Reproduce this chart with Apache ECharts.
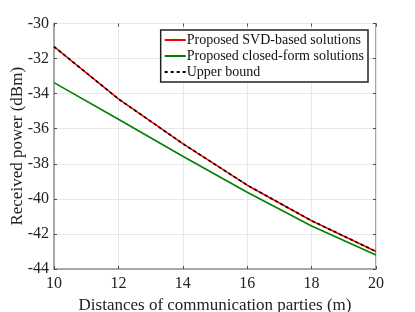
<!DOCTYPE html>
<html><head><meta charset="utf-8">
<script src="https://cdn.jsdelivr.net/npm/echarts@6/dist/echarts.min.js"></script>
<style>html,body{margin:0;padding:0;background:#fff}#c{width:415px;height:312px}</style>
</head><body><div id="c"></div>
<script>
const distances = [10, 12, 14, 16, 18, 20];
const svdBased = [-31.32, -34.3, -36.85, -39.22, -41.25, -43.0];
const closedForm = [-33.37, -35.46, -37.57, -39.62, -41.55, -43.2];
const upperBound = [-31.32, -34.3, -36.85, -39.22, -41.25, -43.0];
const seriesNames = ['Proposed SVD-based solutions', 'Proposed closed-form solutions', 'Upper bound'];
const xTitle = 'Distances of communication parties (m)';
const yTitle = 'Received power (dBm)';

const pair = (xs, ys) => xs.map((x, i) => [x, ys[i]]);
const font = 'Liberation Serif';
const chart = echarts.init(document.getElementById('c'));
const gridLine = { show: true, lineStyle: { color: '#e8e8e8', width: 1 } };
chart.setOption({
  animation: false,
  backgroundColor: '#fff',
  grid: { left: 54, right: 39, top: 23.5, bottom: 43, show: true, borderColor: '#4d4d4d', borderWidth: 1,
          containLabel: false, outerBoundsMode: 'none' },
  xAxis: [{
    type: 'value', min: 10, max: 20, interval: 2,
    name: xTitle, nameLocation: 'middle', nameGap: 27,
    nameTextStyle: { fontFamily: font, fontSize: 17, color: '#222' },
    axisLine: { show: true, lineStyle: { color: '#a8a8a8', width: 2 } },
    axisTick: { show: true, inside: true, length: 3, lineStyle: { color: '#4d4d4d' } },
    axisLabel: { fontFamily: font, fontSize: 16, color: '#222', margin: 7 },
    splitLine: gridLine
  }, {
    type: 'value', min: 10, max: 20, interval: 2, position: 'top',
    axisLine: { show: false },
    axisTick: { show: true, inside: true, length: 3, lineStyle: { color: '#4d4d4d' } },
    axisLabel: { show: false }, splitLine: { show: false }
  }],
  yAxis: [{
    type: 'value', min: -44, max: -30, interval: 2,
    name: yTitle, nameLocation: 'middle', nameGap: 28, nameMoveOverlap: false,
    nameTextStyle: { fontFamily: font, fontSize: 17, color: '#222' },
    axisLine: { show: true, lineStyle: { color: '#a8a8a8', width: 2 } },
    axisTick: { show: true, inside: true, length: 3, lineStyle: { color: '#4d4d4d' } },
    axisLabel: { fontFamily: font, fontSize: 16, color: '#222', margin: 5 },
    splitLine: gridLine
  }, {
    type: 'value', min: -44, max: -30, interval: 2, position: 'right',
    axisLine: { show: false },
    axisTick: { show: true, inside: true, length: 3, lineStyle: { color: '#4d4d4d' } },
    axisLabel: { show: false }, splitLine: { show: false }
  }],
  legend: {
    right: 47, top: 30, orient: 'vertical',
    backgroundColor: '#fff', borderColor: '#222', borderWidth: 1.5,
    padding: [3, 4, 3, 3], itemGap: 2, itemWidth: 21, itemHeight: 14,
    itemStyle: { opacity: 0 },
    textStyle: { fontFamily: font, fontSize: 14, color: '#111', padding: [0, 0, 0, -4] },
    data: seriesNames
  },
  series: [
    { name: seriesNames[0], type: 'line', data: pair(distances, svdBased), symbol: 'none',
      lineStyle: { color: '#ff0000', width: 1.6 }, itemStyle: { color: '#ff0000' }, z: 2 },
    { name: seriesNames[1], type: 'line', data: pair(distances, closedForm), symbol: 'none',
      lineStyle: { color: '#008000', width: 1.6 }, itemStyle: { color: '#008000' }, z: 2 },
    { name: seriesNames[2], type: 'line', data: pair(distances, upperBound), symbol: 'none',
      lineStyle: { color: '#000', width: 1.6, type: [3, 3] }, itemStyle: { color: '#000' }, z: 3 }
  ]
});
</script></body></html>
